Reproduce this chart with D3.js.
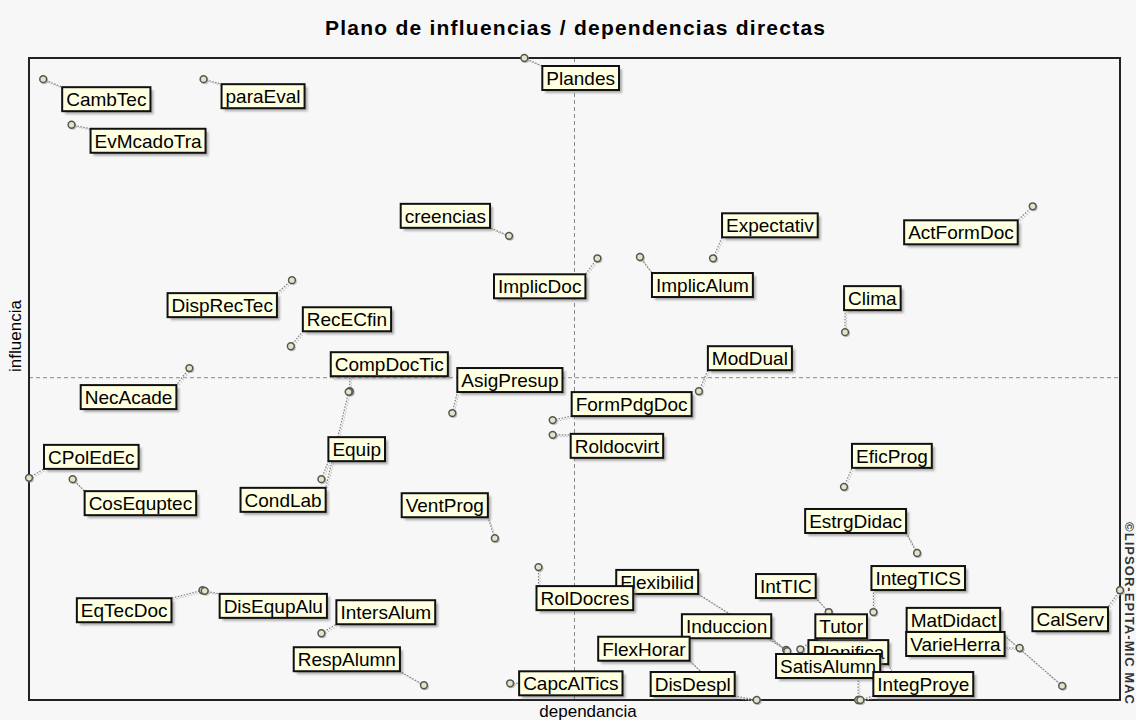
<!DOCTYPE html>
<html>
<head>
<meta charset="utf-8">
<script src="https://cdn.jsdelivr.net/npm/d3@7"></script>
<style>
  html, body { margin: 0; padding: 0; background: #f7f7f7; }
  svg { display: block; }
  text { font-family: "Liberation Sans", Arial, sans-serif; }
</style>
</head>
<body>
<svg id="chart" width="1136" height="720"></svg>
<script>
// MICMAC variables (0-100 scale on both axes)
const variables = [
  'CambTec', 'paraEval', 'EvMcadoTra', 'Plandes', 'creencias', 'Expectativ',
  'ActFormDoc', 'ImplicDoc', 'ImplicAlum', 'Clima', 'DispRecTec', 'RecECfin',
  'NecAcade', 'CompDocTic', 'AsigPresup', 'FormPdgDoc', 'ModDual', 'Roldocvirt',
  'Equip', 'CondLab', 'CPolEdEc', 'CosEquptec', 'VentProg', 'EficProg',
  'EstrgDidac', 'IntegTICS', 'IntTIC', 'CalServ', 'MatDidact', 'VarieHerra',
  'Flexibilid', 'RolDocres', 'Induccion', 'FlexHorar', 'DisDespl', 'Planifica',
  'Tutor', 'SatisAlumn', 'CapcAlTics', 'IntegProye', 'EqTecDoc', 'DisEqupAlu',
  'IntersAlum', 'RespAlumn'
];
const dependencia = [
  1.3, 16.0, 3.9, 45.4, 44.0, 62.7,
  92.0, 52.1, 56.0, 74.8, 24.1, 24.0,
  14.7, 29.4, 38.8, 48.0, 61.4, 48.0,
  26.8, 29.3, 0.0, 4.0, 42.7, 74.7,
  81.4, 77.4, 73.3, 100.0, 94.7, 90.8,
  69.4, 46.7, 69.5, 63.3, 66.7, 79.4,
  70.7, 76.0, 44.1, 76.2, 15.9, 16.1,
  26.8, 36.2
];
const influencia = [
  96.7, 96.7, 89.6, 100.0, 72.3, 68.8,
  76.9, 68.8, 69.0, 57.3, 65.4, 55.1,
  51.7, 48.1, 44.7, 43.6, 48.1, 41.3,
  34.4, 48.0, 34.6, 34.4, 25.2, 33.2,
  22.9, 13.7, 13.7, 17.1, 2.2, 8.1,
  7.8, 20.7, 7.6, 1.6, 0.0, 3.1,
  7.9, 0.0, 2.6, 0.0, 17.1, 17.0,
  10.4, 2.3
];
const mediaDependencia = 50.0;
const mediaInfluencia = 50.2;

// label box placement: [dx, dy, side] from the point, side 'l' = left edge, 'r' = right edge
const etiquetas = [
  [19, 8, 'l'], [18, 5, 'l'], [19, 4, 'l'], [18, 8, 'l'], [-19, -32, 'r'], [9, -45, 'l'],
  [-15, 14, 'r'], [-12, 16, 'r'], [12, 16, 'l'], [-1, -46, 'l'], [-15, 13, 'r'], [12, -39, 'l'],
  [-13, 17, 'r'], [-19, -39, 'l'], [5, -45, 'l'], [19, -28, 'l'], [9, -45, 'l'], [18, -1, 'l'],
  [7, -42, 'l'], [-23, 96, 'r'], [15, -33, 'l'], [12, 12, 'l'], [-7, -45, 'r'], [8, -43, 'l'],
  [-11, -44, 'r'], [-2, -46, 'l'], [-13, -38, 'r'], [-12, 17, 'r'], [-62, -78, 'r'], [-15, -16, 'r'],
  [-88, -80, 'r'], [-2, 19, 'l'], [-16, -37, 'r'], [-30, -53, 'r'], [-22, -28, 'r'], [-7, -40, 'r'],
  [15, -35, 'l'], [22, -46, 'r'], [9, -12, 'l'], [13, -28, 'l'], [-31, 8, 'r'], [15, 3, 'l'],
  [15, -33, 'l'], [-24, -38, 'r']
];

const svg = d3.select('#chart');
const plot = { left: 29, right: 1120, top: 58, bottom: 700 };

const x = d3.scaleLinear().domain([0, 100]).range([plot.left, plot.right]);
const y = d3.scaleLinear().domain([0, 100]).range([plot.bottom, plot.top]);

const defs = svg.append('defs');
defs.append('filter').attr('id', 'blur')
  .append('feGaussianBlur').attr('stdDeviation', 0.8);

// background + frame
svg.append('rect').attr('width', 1136).attr('height', 720).attr('fill', '#f7f7f7');

svg.append('text')
  .attr('x', 575).attr('y', 35)
  .attr('text-anchor', 'middle')
  .attr('font-size', 21).attr('font-weight', 'bold')
  .attr('textLength', 500).attr('lengthAdjust', 'spacing')
  .text('Plano de influencias / dependencias directas');

svg.append('line')
  .attr('x1', x(mediaDependencia)).attr('x2', x(mediaDependencia))
  .attr('y1', plot.top).attr('y2', plot.bottom)
  .attr('stroke', '#888').attr('stroke-dasharray', '4,3');
svg.append('line')
  .attr('x1', plot.left).attr('x2', plot.right)
  .attr('y1', y(mediaInfluencia)).attr('y2', y(mediaInfluencia))
  .attr('stroke', '#888').attr('stroke-dasharray', '4,3');

svg.append('rect')
  .attr('x', plot.left).attr('y', plot.top)
  .attr('width', plot.right - plot.left).attr('height', plot.bottom - plot.top)
  .attr('fill', 'none').attr('stroke', '#222').attr('stroke-width', 2);

svg.append('text')
  .attr('transform', 'translate(21,336) rotate(-90)')
  .attr('text-anchor', 'middle').attr('font-size', 17)
  .text('influencia');
svg.append('text')
  .attr('x', 588).attr('y', 717)
  .attr('text-anchor', 'middle').attr('font-size', 17)
  .text('dependancia');
svg.append('text')
  .attr('transform', 'translate(1125,613) rotate(90)')
  .attr('text-anchor', 'middle').attr('font-size', 13).attr('font-weight', 'bold')
  .attr('fill', '#333')
  .attr('textLength', 182).attr('lengthAdjust', 'spacing')
  .text('©LIPSOR-EPITA-MIC MAC');

// build nodes
const nodes = variables.map((name, i) => ({
  name,
  cx: x(dependencia[i]),
  cy: y(influencia[i]),
  off: etiquetas[i]
}));

const gLines = svg.append('g');
const gDots = svg.append('g');
const gLabels = svg.append('g');

// labels first so the text can be measured
const BOX_H = 24, PAD = 4;
nodes.forEach(d => {
  const g = gLabels.append('g');
  const t = g.append('text').attr('font-size', 19).text(d.name);
  const w = t.node().getComputedTextLength() + PAD * 2;
  const bx = d.off[2] === 'l' ? d.cx + d.off[0] : d.cx + d.off[0] - w;
  const by = d.cy + d.off[1];
  d.box = { x: bx, y: by, w, h: BOX_H };
  g.insert('rect', 'text')
    .attr('x', bx + 3).attr('y', by + 3).attr('width', w).attr('height', BOX_H)
    .attr('fill', '#7a7a7a').attr('opacity', 0.6).attr('filter', 'url(#blur)');
  g.insert('rect', 'text')
    .attr('x', bx).attr('y', by).attr('width', w).attr('height', BOX_H)
    .attr('fill', '#ffffe1').attr('stroke', '#111').attr('stroke-width', 2);
  t.attr('x', bx + PAD).attr('y', by + 19);
});

// leader lines from each point to the nearest spot on its box
nodes.forEach(d => {
  const b = d.box;
  const px = Math.max(b.x, Math.min(d.cx, b.x + b.w));
  const py = Math.max(b.y, Math.min(d.cy, b.y + b.h));
  gLines.append('line')
    .attr('x1', d.cx + 1.5).attr('y1', d.cy + 1.5).attr('x2', px + 1.5).attr('y2', py + 1.5)
    .attr('stroke', '#c4c4c4').attr('stroke-width', 1.2).attr('stroke-dasharray', '1.5,1.5');
  gLines.append('line')
    .attr('x1', d.cx).attr('y1', d.cy).attr('x2', px).attr('y2', py)
    .attr('stroke', '#808080').attr('stroke-width', 1.2).attr('stroke-dasharray', '1.5,1.5');
});

gDots.selectAll('circle.sh')
  .data(nodes).join('circle')
  .attr('cx', d => d.cx + 1.2).attr('cy', d => d.cy + 1.2).attr('r', 3.8)
  .attr('fill', '#999').attr('opacity', 0.6);
gDots.selectAll('circle.pt')
  .data(nodes).join('circle').attr('class', 'pt')
  .attr('cx', d => d.cx).attr('cy', d => d.cy).attr('r', 3.4)
  .attr('fill', '#e4e4c4').attr('stroke', '#555').attr('stroke-width', 1.5);
</script>
</body>
</html>
